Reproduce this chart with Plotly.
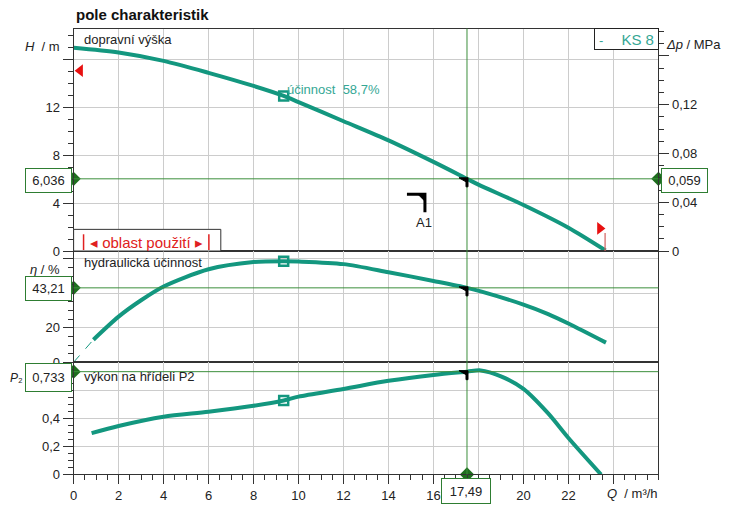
import numpy as np
import plotly.graph_objects as go

# ---- pump curve data (flow rate Q in m³/h) ----
q_head = [0, 2, 4, 6, 8, 9.34, 10, 12, 14, 16, 17.49, 18, 20, 22, 23.65]
head_m = [17.0, 16.6, 15.9, 14.9, 13.8, 12.97, 12.45, 10.85, 9.25, 7.45, 6.036, 5.55, 3.85, 1.95, 0.05]

q_eff = [0.88, 2, 3, 4, 6, 8, 9.34, 10, 12, 14, 16, 17.49, 18.14, 20, 21.1, 22, 23.67]
eff_pct = [13.1, 26.5, 36.0, 44.0, 54.0, 58.2, 58.7, 58.5, 57.0, 52.3, 47.2, 43.21, 41.0, 33.5, 28.0, 22.5, 11.4]

q_pow = [0.8, 2, 4, 6, 8, 9.34, 10, 12, 14, 16, 17.49, 18.1, 19, 20, 21.1, 22, 23.45]
p2_kw = [0.295, 0.346, 0.412, 0.447, 0.49, 0.528, 0.555, 0.61, 0.668, 0.71, 0.733, 0.742, 0.70, 0.61, 0.435, 0.26, 0.0]

# operating point and best efficiency point
q_op, h_op, eta_op, p_op = 17.49, 6.036, 43.21, 0.733
q_bep, eta_bep = 9.34, 58.7
dp_op = h_op * 0.00981          # head in m of water -> MPa

# usage range flags and the A1 marker
flag_left_q, flag_left_h = 0.29, 15.08
flag_right_q, flag_right_h = 23.4, 1.89
flag_pole_q, flag_pole_h = 23.63, 1.5
a1_q, a1_h = 15.62, 4.75

pump_name = "KS 8"
x_ticks = [0, 2, 4, 6, 8, 10, 12, 14, 16, 18, 20, 22, 24]
x_ticktext = ["0", "2", "4", "6", "8", "10", "12", "14", "16", "", "20", "22", ""]

# ---- layout helpers (pixel -> paper) ----
W, Hpx = 730, 513
def px(x): return x / W
def py(y): return 1 - y / Hpx

X0, X1 = 70, 658
xd = [px(X0), px(X1)]
top_d = [py(255), py(29)]
mid_d = [py(368), py(255)]
bot_d = [py(482), py(368)]

TEAL = "#13977f"
TEAL_TXT = "#35a795"
GREEN = "#3c8f3c"
DGREEN = "#1e6e1e"
GRID = "#cccccc"
LINE = "#333333"
FONT = "Liberation Sans, Arial, sans-serif"

h_max = 18.6
fmt = lambda v, n: f"{v:.{n}f}".replace(".", ",")

fig = go.Figure()

curve = dict(mode="lines", line=dict(color=TEAL, width=4, shape="spline", smoothing=0.8),
             showlegend=False, hoverinfo="skip")
fig.add_trace(go.Scatter(x=q_head, y=head_m, xaxis="x", yaxis="y", **curve))
fig.add_trace(go.Scatter(x=q_eff, y=eff_pct, xaxis="x2", yaxis="y3", **curve))
fig.add_trace(go.Scatter(x=q_pow, y=p2_kw, xaxis="x3", yaxis="y4", **curve))
fig.add_trace(go.Scatter(x=[0, q_eff[0]], y=[0, eff_pct[0]], xaxis="x2", yaxis="y3", mode="lines",
                         line=dict(color=TEAL, width=1, dash="dash"), showlegend=False))

# best efficiency point markers
sq = dict(mode="markers", marker=dict(symbol="square-open", size=9, color=TEAL, line=dict(width=2.5)),
          showlegend=False)
fig.add_trace(go.Scatter(x=[q_bep], y=[float(np.interp(q_bep, q_head, head_m))], xaxis="x", yaxis="y", **sq))
fig.add_trace(go.Scatter(x=[q_bep], y=[eta_bep], xaxis="x2", yaxis="y3", **sq))
fig.add_trace(go.Scatter(x=[q_bep], y=[float(np.interp(q_bep, q_pow, p2_kw))], xaxis="x3", yaxis="y4", **sq))

# operating point lines
shapes = []
for ya, v in (("y", h_op), ("y3", eta_op), ("y4", p_op)):
    shapes.append(dict(type="line", xref="paper", yref=ya, x0=xd[0], x1=xd[1], y0=v, y1=v,
                       line=dict(color=GREEN, width=1)))
shapes.append(dict(type="line", xref="x", yref="paper", x0=q_op, x1=q_op, y0=bot_d[0], y1=top_d[1],
                   line=dict(color=GREEN, width=1)))

# small black corner ticks at the operating point on each curve
for xa, ya, v in (("x", "y", h_op), ("x2", "y3", eta_op), ("x3", "y4", p_op)):
    shapes.append(dict(type="path", xref=xa, yref=ya, xsizemode="pixel", ysizemode="pixel",
                       xanchor=q_op, yanchor=v, path="M -8 1 L 1 1 L 1 -8 L -1 -8 L -1 -3 Z",
                       fillcolor="black", line=dict(color="black", width=1)))

# A1 marker
shapes.append(dict(type="path", xref="x", yref="y", xsizemode="pixel", ysizemode="pixel",
                   xanchor=a1_q, yanchor=a1_h, path="M -18 0 L 0 0 L 0 -18",
                   line=dict(color="black", width=3)))
shapes.append(dict(type="path", xref="x", yref="y", xsizemode="pixel", ysizemode="pixel",
                   xanchor=a1_q, yanchor=a1_h, path="M -7 0 L 0 0 L 0 -7 Z",
                   fillcolor="black", line=dict(color="black", width=1)))

# red usage-range pole
shapes.append(dict(type="line", xref="x", yref="y", x0=flag_pole_q, x1=flag_pole_q, y0=0, y1=flag_pole_h,
                   line=dict(color="#d06060", width=1.2)))

# "oblast použití" box
shapes.append(dict(type="rect", xref="paper", yref="paper", x0=px(70), x1=px(218), y0=py(255), y1=py(233),
                   fillcolor="white", line=dict(color="#333", width=1), layer="above"))
for xb in (80, 206):
    shapes.append(dict(type="line", xref="paper", yref="paper", x0=px(xb), x1=px(xb), y0=py(254), y1=py(238),
                       line=dict(color="#e02020", width=1.5)))

# red flags
fig.add_trace(go.Scatter(x=[flag_left_q], y=[flag_left_h], xaxis="x", yaxis="y", mode="markers",
                         marker=dict(symbol="triangle-left", size=11, color="#e81010"),
                         cliponaxis=False, showlegend=False))
fig.add_trace(go.Scatter(x=[flag_right_q], y=[flag_right_h], xaxis="x", yaxis="y", mode="markers",
                         marker=dict(symbol="triangle-right", size=11, color="#e81010"),
                         cliponaxis=False, showlegend=False))

# green diamonds on the axes
dm = dict(mode="markers", marker=dict(symbol="diamond", size=11, color=DGREEN), cliponaxis=False,
          showlegend=False)
fig.add_trace(go.Scatter(x=[0, 26], y=[h_op, h_op], xaxis="x", yaxis="y", **dm))
fig.add_trace(go.Scatter(x=[0], y=[eta_op], xaxis="x2", yaxis="y3", **dm))
fig.add_trace(go.Scatter(x=[0, q_op], y=[p_op, 0], xaxis="x3", yaxis="y4", **dm))

ann = []
def text(x, y, s, size=13, color="#222", xanchor="center", **kw):
    ann.append(dict(x=px(x), y=py(y), xref="paper", yref="paper", text=s, showarrow=False,
                    xanchor=xanchor, yanchor="middle", font=dict(family=FONT, size=size, color=color), **kw))

def vbox(x, y, s, w=43, h=21):
    text(x, y, s, bgcolor="white", bordercolor="#2e7d32", borderwidth=1, borderpad=1, width=w, height=h)

text(70, 15, "<b>pole charakteristik</b>", size=15, color="#111", xanchor="left")
text(78, 40, "dopravní výška", xanchor="left")
text(78, 267, "hydraulická účinnost", xanchor="left")
text(78, 382, "výkon na hřídeli P2", xanchor="left")
text(283, 91, f"účinnost  {fmt(eta_bep, 1)}%", color=TEAL_TXT, xanchor="left")
text(58, 47, "<i>H</i>  / m", xanchor="right")
text(664, 45, "<i>Δp</i> / MPa", xanchor="left")
text(58, 274, "<i>η</i> / %", xanchor="right")
text(660, 501, "<i>Q</i>  / m³/h", xanchor="right")
text(13, 384, "<i>P</i>₂", size=12)
text(143, 246, "◂ oblast použití ▸", size=15, color="#e02020")
text(625.5, 40, f"-     <span style='font-size:15px'>{pump_name}</span>", color=TEAL_TXT,
     bgcolor="white", bordercolor="#222", borderwidth=1, borderpad=1, width=61, height=18)

vbox(44.5, 183, fmt(h_op, 3))
vbox(684.5, 183, fmt(dp_op, 3))
vbox(44.5, 293, fmt(eta_op, 2))
vbox(44.5, 383.5, fmt(p_op, 3), h=25)
vbox(465, 499, fmt(q_op, 2), w=46, h=22)

ann.append(dict(x=a1_q, y=a1_h, xref="x", yref="y", text="A1", showarrow=False, yshift=-28, xshift=-1,
                font=dict(family=FONT, size=13, color="#222")))

tickfont = dict(family=FONT, size=13, color="#222")
xbase = dict(domain=xd, range=[0, 26], dtick=2, showgrid=True, gridcolor=GRID, gridwidth=1,
             zeroline=False, showline=True, mirror=True, linecolor=LINE, linewidth=1, fixedrange=True)
ybase = dict(showgrid=True, gridcolor=GRID, gridwidth=1, zeroline=False, showline=True, mirror=True,
             linecolor=LINE, linewidth=1, ticks="outside", ticklen=10, tickcolor=LINE, tickfont=tickfont)

fig.update_layout(
    width=W, height=Hpx, margin=dict(l=0, r=0, t=0, b=0, pad=0),
    paper_bgcolor="white", plot_bgcolor="white", separators=", ",
    font=dict(family=FONT, size=13, color="#222"),
    shapes=shapes, annotations=ann, showlegend=False,
    xaxis=dict(**xbase, anchor="y", showticklabels=False, ticks=""),
    yaxis=dict(**ybase, domain=top_d, anchor="x", range=[0, h_max],
               tickvals=[0, 4, 8, 12, 16], ticktext=["0", "4", "8", "12", ""],
               minor=dict(dtick=1, ticklen=5, ticks="outside", tickcolor=LINE, showgrid=False)),
    yaxis2=dict(overlaying="y", anchor="x", side="right", range=[0, h_max * 0.00981],
                tickvals=[0, 0.04, 0.08, 0.12, 0.16], ticktext=["0", "0,04", "0,08", "0,12", ""],
                ticks="outside", ticklen=10, tickcolor=LINE, tickfont=tickfont, showgrid=False,
                zeroline=False, showline=False,
                minor=dict(dtick=0.01, ticklen=5, ticks="outside", tickcolor=LINE, showgrid=False)),
    xaxis2=dict(**xbase, anchor="y3", showticklabels=False, ticks=""),
    yaxis3=dict(**ybase, domain=mid_d, anchor="x2", range=[0, 64.6],
                tickvals=[0, 20, 40, 60], ticktext=["0", "20", "", ""],
                minor=dict(dtick=5, ticklen=5, ticks="outside", tickcolor=LINE, showgrid=False)),
    xaxis3=dict(**xbase, anchor="y4", tickvals=x_ticks, ticktext=x_ticktext, ticks="outside", ticklen=9,
                tickcolor=LINE, tickfont=tickfont,
                minor=dict(dtick=0.5, ticklen=5, ticks="outside", tickcolor=LINE, showgrid=False)),
    yaxis4=dict(**ybase, domain=bot_d, anchor="x3", range=[0, 0.8],
                tickvals=[0, 0.2, 0.4, 0.6], ticktext=["0", "0,2", "0,4", ""],
                minor=dict(dtick=0.05, ticklen=5, ticks="outside", tickcolor=LINE, showgrid=False)),
)
fig.add_trace(go.Scatter(x=[None], y=[None], xaxis="x", yaxis="y2", showlegend=False))

fig.write_html("out.html")
